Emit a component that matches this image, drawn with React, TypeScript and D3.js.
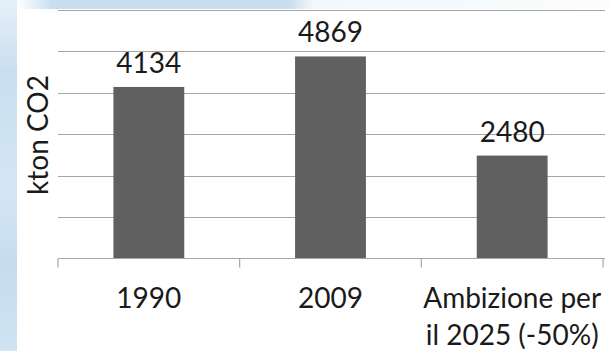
import React, { useEffect, useRef } from "react";
import * as d3 from "d3";

const categories: string[][] = [["1990"], ["2009"], ["Ambizione per", "il 2025 (-50%)"]];
const values: number[] = [4134, 4869, 2480];
const yTicks: number[] = [0, 1000, 2000, 3000, 4000, 5000, 6000];
const yLabel = "kton CO2";

const W = 610;
const H = 351;

export default function App() {
  const ref = useRef<SVGSVGElement>(null);

  useEffect(() => {
    const svg = d3.select(ref.current);
    svg.selectAll("*").remove();

    // background decoration
    const bg = svg.append("g");
    bg.append("rect").attr("x", 0).attr("y", 0).attr("width", W).attr("height", H).attr("fill", "#ffffff");
    const defs = svg.append("defs");
    const lg = defs.append("linearGradient").attr("id", "leftStrip").attr("x1", 0).attr("y1", 0).attr("x2", 0).attr("y2", 1);
    lg.append("stop").attr("offset", "0%").attr("stop-color", "#e6f0f8");
    lg.append("stop").attr("offset", "20%").attr("stop-color", "#c9dff0");
    lg.append("stop").attr("offset", "55%").attr("stop-color", "#d3e6f3");
    lg.append("stop").attr("offset", "75%").attr("stop-color", "#c6ddef");
    lg.append("stop").attr("offset", "100%").attr("stop-color", "#cfe3f1");
    bg.append("rect").attr("x", 0).attr("y", 0).attr("width", 17).attr("height", H).attr("fill", "url(#leftStrip)");
    const tg = defs.append("linearGradient").attr("id", "topStrip").attr("x1", 0).attr("y1", 0).attr("x2", 1).attr("y2", 0);
    tg.append("stop").attr("offset", "0%").attr("stop-color", "#ffffff");
    tg.append("stop").attr("offset", "6%").attr("stop-color", "#c9dff0");
    tg.append("stop").attr("offset", "46%").attr("stop-color", "#c9dff0");
    tg.append("stop").attr("offset", "50%").attr("stop-color", "#f4f8fb");
    tg.append("stop").attr("offset", "100%").attr("stop-color", "#fafcfd");
    bg.append("rect").attr("x", 17).attr("y", 0).attr("width", W - 17).attr("height", 9).attr("fill", "url(#topStrip)");

    const x = d3.scaleBand<number>().domain(d3.range(categories.length)).range([58, 603]).padding(0);
    const y = d3.scaleLinear().domain([0, 6000]).range([258.5, 9.5]);
    const barW = x.bandwidth() * 0.39;

    const g = svg.append("g");

    // gridlines
    g.selectAll("line.grid")
      .data(yTicks.slice(1))
      .join("line")
      .attr("class", "grid")
      .attr("x1", 58)
      .attr("x2", 605)
      .attr("y1", (d) => Math.round(y(d)) + 0.5)
      .attr("y2", (d) => Math.round(y(d)) + 0.5)
      .attr("stroke", "#a6a6a6")
      .attr("stroke-width", 1.2);

    // bars
    g.selectAll("rect.bar")
      .data(values)
      .join("rect")
      .attr("class", "bar")
      .attr("x", (_, i) => (x(i) as number) + x.bandwidth() / 2 - barW / 2)
      .attr("y", (d) => y(d))
      .attr("width", barW)
      .attr("height", (d) => y(0) - y(d))
      .attr("fill", "#606060");

    // baseline axis
    g.append("line")
      .attr("x1", 58)
      .attr("x2", 605)
      .attr("y1", y(0))
      .attr("y2", y(0))
      .attr("stroke", "#a6a6a6")
      .attr("stroke-width", 1.2);
    const tickXs = d3.range(categories.length + 1).map((i) => (i < categories.length ? (x(i) as number) : 603));
    g.selectAll("line.tick")
      .data(tickXs)
      .join("line")
      .attr("class", "tick")
      .attr("x1", (d) => d)
      .attr("x2", (d) => d)
      .attr("y1", y(0))
      .attr("y2", y(0) + 9)
      .attr("stroke", "#a6a6a6")
      .attr("stroke-width", 1.2);

    const font = "Lato, 'Open Sans', sans-serif";

    // value labels
    g.selectAll("text.val")
      .data(values)
      .join("text")
      .attr("class", "val")
      .attr("x", (_, i) => (x(i) as number) + x.bandwidth() / 2)
      .attr("y", (d) => y(d) - 14)
      .attr("text-anchor", "middle")
      .attr("font-family", font)
      .attr("font-size", 28)
      .attr("fill", "#1a1a1a")
      .text((d) => String(d));

    // category labels
    categories.forEach((lines, i) => {
      const t = g.append("text")
        .attr("x", (x(i) as number) + x.bandwidth() / 2)
        .attr("y", 308)
        .attr("text-anchor", "middle")
        .attr("font-family", font)
        .attr("font-size", 28)
        .attr("fill", "#1a1a1a");
      lines.forEach((ln, j) => {
        t.append("tspan")
          .attr("x", (x(i) as number) + x.bandwidth() / 2)
          .attr("dy", j === 0 ? 0 : 37)
          .text(ln);
      });
    });

    // y label
    g.append("text")
      .attr("transform", `translate(48,135) rotate(-90)`)
      .attr("text-anchor", "middle")
      .attr("font-family", font)
      .attr("font-size", 28)
      .attr("fill", "#1a1a1a")
      .text(yLabel);
  }, []);

  return (
    <svg
      ref={ref}
      width={W}
      height={H}
      style={{ position: "absolute", left: 0, top: 0, display: "block" }}
    />
  );
}
